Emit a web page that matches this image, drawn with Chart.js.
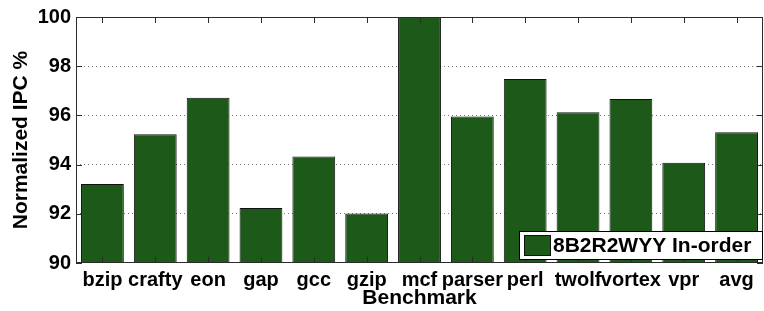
<!DOCTYPE html>
<html>
<head>
<meta charset="utf-8">
<script src="https://cdn.jsdelivr.net/npm/chart.js@4"></script>
<style>
    html, body { margin: 0; padding: 0; background: #fff; }
    #wrap { width: 764px; height: 311px; }
</style>
</head>
<body>
<div id="wrap"><canvas id="ipcChart" width="764" height="311"></canvas></div>
<script>
const benchmarks = ["bzip", "crafty", "eon", "gap", "gcc", "gzip", "mcf", "parser", "perl", "twolf", "vortex", "vpr", "avg"];
const ipcValues = [93.21, 95.23, 96.72, 92.24, 94.33, 92.01, 100, 95.96, 97.48, 96.13, 96.67, 94.08, 95.31];
const seriesLabel = "8B2R2WYY In-order";
const yTicks = [90, 92, 94, 96, 98, 100];

const FONT = "'Liberation Sans', Arial, Helvetica, sans-serif";
const GREEN = "#1d5a1a";

// MATLAB-style box with inward ticks on all four sides
const boxPlugin = {
    id: "boxAxes",
    afterDatasetsDraw(chart) {
        const { ctx, chartArea: a, scales } = chart;
        ctx.save();
        ctx.strokeStyle = "#2b2b2b";
        ctx.lineWidth = 1;
        ctx.strokeRect(a.left + 0.5, a.top + 0.5, a.right - a.left - 1, a.bottom - a.top - 1);
        ctx.beginPath();
        benchmarks.forEach((b, i) => {
            const x = Math.round(scales.x.getPixelForValue(i)) + 0.5;
            ctx.moveTo(x, a.top);
            ctx.lineTo(x, a.top + 6);
            ctx.moveTo(x, a.bottom);
            ctx.lineTo(x, a.bottom - 6);
        });
        yTicks.forEach((v) => {
            const y = Math.round(scales.y.getPixelForValue(v)) + 0.5;
            ctx.moveTo(a.left, y);
            ctx.lineTo(a.left + 6, y);
            ctx.moveTo(a.right, y);
            ctx.lineTo(a.right - 6, y);
        });
        ctx.stroke();
        ctx.restore();
    },
    afterDraw(chart) {
        // legend box inside the plot, bottom right
        const { ctx, chartArea: a } = chart;
        const w = 243, h = 28;
        const x0 = a.right - w - 1, y0 = a.bottom - h - 4;
        ctx.save();
        ctx.fillStyle = "#fff";
        ctx.fillRect(x0, y0, w, h);
        ctx.strokeStyle = "#000";
        ctx.lineWidth = 1;
        ctx.strokeRect(x0 + 0.5, y0 + 0.5, w, h);
        ctx.fillStyle = GREEN;
        ctx.fillRect(x0 + 5, y0 + 4, 26, 20);
        ctx.strokeStyle = "#111";
        ctx.strokeRect(x0 + 5.5, y0 + 4.5, 26, 20);
        ctx.fillStyle = "#000";
        ctx.font = "bold 21px " + FONT;
        ctx.textBaseline = "middle";
        ctx.fillText(seriesLabel, x0 + 34, y0 + h / 2 + 1);
        ctx.restore();
    }
};

new Chart(document.getElementById("ipcChart").getContext("2d"), {
    type: "bar",
    data: {
        labels: benchmarks,
        datasets: [{
            label: seriesLabel,
            data: ipcValues,
            backgroundColor: GREEN,
            borderColor: "#111",
            borderWidth: 1,
            borderSkipped: false,
            barPercentage: 0.81,
            categoryPercentage: 1.0
        }]
    },
    options: {
        responsive: false,
        animation: false,
        devicePixelRatio: 1,
        layout: { padding: { top: 13, right: 1, left: 0, bottom: 0 } },
        plugins: {
            legend: { display: false },
            tooltip: { enabled: false }
        },
        scales: {
            x: {
                grid: { display: false, drawTicks: false },
                border: { display: false },
                ticks: {
                    autoSkip: false,
                    maxRotation: 0,
                    minRotation: 0,
                    padding: 5,
                    color: "#000",
                    font: { family: FONT, size: 20, weight: "bold" }
                },
                title: {
                    display: true,
                    text: "Benchmark",
                    color: "#000",
                    padding: { top: 0, bottom: 0 },
                    font: { family: FONT, size: 21, weight: "bold" }
                },
                afterFit(scale) { scale.height = 48; }
            },
            y: {
                min: 90,
                max: 100,
                afterBuildTicks(scale) { scale.ticks = yTicks.map((v) => ({ value: v })); },
                grid: {
                    drawTicks: false,
                    color: (c) => (c.tick && (c.tick.value === 90 || c.tick.value === 100)) ? "rgba(0,0,0,0)" : "#7a7a7a",
                    lineWidth: 1
                },
                border: { display: false, dash: [1, 3] },
                ticks: {
                    padding: 5,
                    color: "#000",
                    font: { family: FONT, size: 20, weight: "bold" }
                },
                title: {
                    display: true,
                    text: "Normalized IPC %",
                    color: "#000",
                    padding: { top: 9, bottom: 0 },
                    font: { family: FONT, size: 21, weight: "bold" }
                },
                afterFit(scale) { scale.width = 76; }
            }
        }
    },
    plugins: [boxPlugin]
});
</script>
</body>
</html>
